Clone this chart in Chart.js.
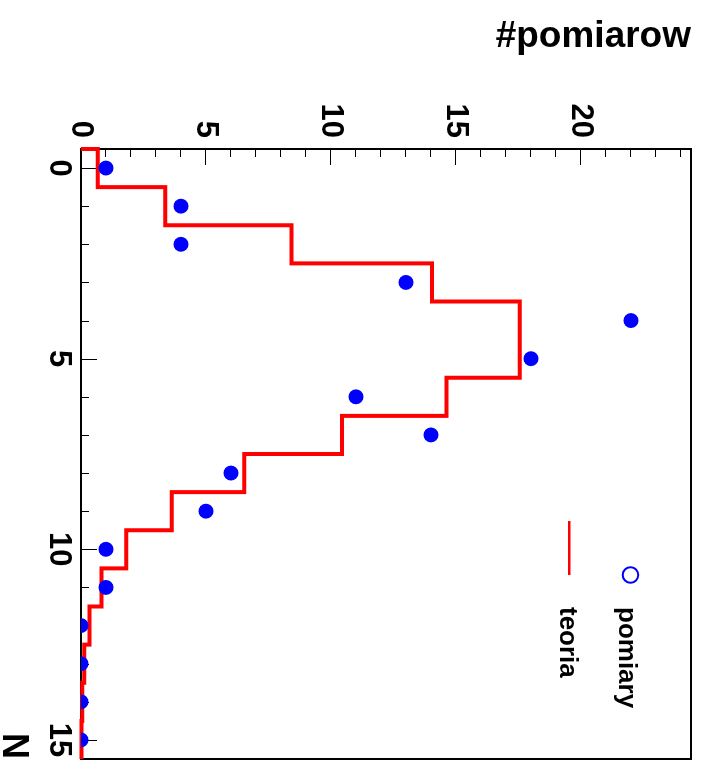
<!DOCTYPE html>
<html>
<head>
<meta charset="utf-8">
<script src="https://cdn.jsdelivr.net/npm/chart.js@4/dist/chart.umd.min.js"></script>
<style>
  html, body { margin: 0; padding: 0; background: #fff; overflow: hidden; }
  /* the plot is drawn upright and turned a quarter clockwise, like the reference */
  #wrap {
    position: absolute; left: 0; top: 0;
    width: 771px; height: 705px;
    transform-origin: 0 0;
    transform: translateX(705px) rotate(90deg);
  }
</style>
</head>
<body>
<div id="wrap"><canvas id="chart" width="771" height="705"></canvas></div>
<script>
// === Data ===
const nValues = [0, 1, 2, 3, 4, 5, 6, 7, 8, 9, 10, 11, 12, 13, 14, 15];
const pomiary = [1, 4, 4, 13, 22, 18, 11, 14, 6, 5, 1, 1, 0, 0, 0, 0];
const teoria = [0.67, 3.37, 8.42, 14.04, 17.55, 17.55, 14.62, 10.44, 6.53, 3.63, 1.81, 0.82, 0.34, 0.13, 0.05, 0.02];
const nTicks = [0, 5, 10, 15];
const countTicks = [0, 5, 10, 15, 20];
const nMin = -0.5, nMax = 15.5;
const countMax = 24.4;

const FONT = "'Liberation Sans', Arial, Helvetica, sans-serif";
Chart.defaults.font.family = FONT;
Chart.defaults.color = "#000";

// measured points
const pointData = nValues.map((n, i) => ({ x: n, y: pomiary[i] }));

// histogram outline, one step per bin
const stepData = [{ x: nValues[0] - 0.5, y: 0 }];
teoria.forEach((v, i) => stepData.push({ x: nValues[i] - 0.5, y: v }));
stepData.push({ x: nValues[nValues.length - 1] + 0.5, y: teoria[teoria.length - 1] });

// === Frame and inward ticks ===
const frameTicks = {
  id: "frameTicks",
  beforeDatasetsDraw(chart) {
    const { ctx, chartArea: a, scales: { x, y } } = chart;
    ctx.save();
    ctx.strokeStyle = "#000";
    ctx.lineWidth = 1;
    ctx.beginPath();
    for (let v = 0; v <= Math.floor(countMax); v++) {
      const py = Math.round(y.getPixelForValue(v)) + 0.5;
      ctx.moveTo(a.left, py);
      ctx.lineTo(a.left + (v % 5 === 0 ? 16 : 8), py);
    }
    nValues.forEach(n => {
      const px = Math.round(x.getPixelForValue(n)) + 0.5;
      ctx.moveTo(px, a.bottom);
      ctx.lineTo(px, a.bottom - (n % 5 === 0 ? 16 : 8));
    });
    ctx.stroke();
    ctx.lineWidth = 2;
    ctx.strokeRect(a.left, a.top, a.right - a.left, a.bottom - a.top);
    ctx.restore();
  }
};

// === Legend (top right, no box) ===
const legendBox = {
  id: "legendBox",
  afterDraw(chart) {
    const { ctx, chartArea: a } = chart;
    const sets = chart.data.datasets;
    ctx.save();
    ctx.font = "bold 26px " + FONT;
    ctx.fillStyle = "#000";
    ctx.textBaseline = "alphabetic";
    // pomiary: open circle marker
    ctx.strokeStyle = sets[0].backgroundColor;
    ctx.lineWidth = 2;
    ctx.beginPath();
    ctx.arc(a.right - 184, a.top + 60.5, 7.8, 0, Math.PI * 2);
    ctx.stroke();
    ctx.fillText(sets[0].label, a.right - 152, a.top + 72);
    // teoria: line
    ctx.strokeStyle = sets[1].borderColor;
    ctx.lineWidth = 2.5;
    ctx.beginPath();
    ctx.moveTo(a.right - 238, a.top + 121.7);
    ctx.lineTo(a.right - 184, a.top + 121.7);
    ctx.stroke();
    ctx.fillText(sets[1].label, a.right - 152, a.top + 131);
    ctx.restore();
  }
};

new Chart(document.getElementById("chart"), {
  type: "scatter",
  data: {
    datasets: [
      {
        type: "scatter",
        label: "pomiary",
        data: pointData,
        backgroundColor: "#0000ff",
        borderWidth: 0,
        pointRadius: 7.5,
        clip: 0
      },
      {
        type: "line",
        label: "teoria",
        data: stepData,
        borderColor: "#ff0000",
        borderWidth: 4,
        stepped: true,
        pointRadius: 0,
        fill: false,
        borderJoinStyle: "miter",
        clip: 2
      }
    ]
  },
  options: {
    responsive: false,
    devicePixelRatio: 1,
    animation: false,
    events: [],
    layout: { padding: { left: 0, top: 14, right: 12, bottom: 0 } },
    plugins: { legend: { display: false }, tooltip: { enabled: false } },
    scales: {
      x: {
        type: "linear",
        position: "bottom",
        min: nMin,
        max: nMax,
        grid: { display: false, drawTicks: false },
        border: { display: false },
        ticks: { font: { size: 31, weight: "bold", lineHeight: 1.2 }, padding: 4, maxRotation: 0 },
        afterBuildTicks: s => { s.ticks = nTicks.map(v => ({ value: v })); },
        afterFit: s => { s.height = 81; s.paddingLeft = 0; s.paddingRight = 0; },
        title: {
          display: true, text: "N", align: "end",
          font: { size: 36, weight: "bold", lineHeight: 0.6 },
          padding: { top: 0, bottom: 1.7 }
        }
      },
      y: {
        type: "linear",
        position: "left",
        min: 0,
        max: countMax,
        grid: { display: false, drawTicks: false },
        border: { display: false },
        ticks: { font: { size: 31, weight: "bold" }, padding: 11 },
        afterBuildTicks: s => { s.ticks = countTicks.map(v => ({ value: v })); },
        afterFit: s => { s.width = 149; s.paddingTop = 0; s.paddingBottom = 0; },
        title: {
          display: true, text: "#pomiarow", align: "end",
          font: { size: 37, weight: "bold", lineHeight: 1.2 },
          padding: { top: 15, bottom: 0 }
        }
      }
    }
  },
  plugins: [frameTicks, legendBox]
});
</script>
</body>
</html>
